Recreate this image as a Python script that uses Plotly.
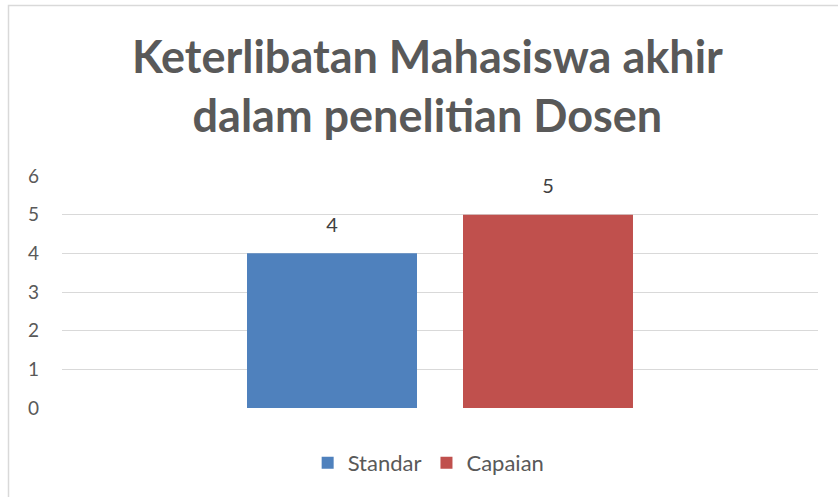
import plotly.graph_objects as go

# chart data
categories = [""]
series_names = ["Standar", "Capaian"]
series_values = [[4], [5]]
series_colors = ["#4F81BD", "#C0504D"]
y_ticks = [0, 1, 2, 3, 4, 5, 6]
title_text = "Keterlibatan Mahasiswa akhir<br>dalam penelitian Dosen"

W, H = 838, 497
L, R, T, B = 62, 20, 176, 89
ph = H - T - B
pw = W - L - R
FONT = "Lato"

fig = go.Figure()
for name, vals, col in zip(series_names, series_values, series_colors):
    fig.add_trace(go.Bar(
        x=categories, y=vals, name=name, offsetgroup=name,
        marker=dict(color=col, line=dict(width=0)),
        hoverinfo="skip",
    ))
# value labels, grouped like the bars
for name, vals in zip(series_names, series_values):
    fig.add_trace(go.Scatter(
        x=categories, y=vals, offsetgroup=name, mode="markers+text",
        marker=dict(size=25, opacity=0), showlegend=False,
        text=[str(v) for v in vals], textposition="top center",
        textfont=dict(size=20, color="#404040"), cliponaxis=False,
        hoverinfo="skip",
    ))

# chart border
fig.add_shape(
    type="rect", xref="paper", yref="paper",
    x0=(8.5 - L) / pw, x1=1.2,
    y0=-1.0, y1=(H - B - 5.5) / ph,
    line=dict(color="#D9D9D9", width=1.5), layer="below",
)

fig.update_layout(
    width=W, height=H,
    margin=dict(l=L, r=R, t=T, b=B),
    paper_bgcolor="white", plot_bgcolor="white",
    font=dict(family=FONT, color="#595959", size=18),
    barmode="group", bargap=0.4286, bargroupgap=0.213,
    scattermode="group", scattergap=0.4286,
    title=dict(
        text="<b>" + title_text + "</b>",
        font=dict(size=45, color="#595959", family=FONT),
        x=0.51, xanchor="center", xref="container",
        y=1 - 73 / H, yanchor="middle", yref="container",
    ),
    xaxis=dict(showticklabels=False, showgrid=False, showline=False, zeroline=False),
    yaxis=dict(
        range=[0, 6], tickvals=y_ticks, showgrid=True, gridcolor="#D9D9D9", gridwidth=1,
        zeroline=False, showline=False, ticks="", ticklabelstandoff=22,
        tickfont=dict(size=19, color="#595959"),
    ),
    legend=dict(
        orientation="h", x=0.485, xanchor="center",
        y=1 - 463 / H, yanchor="middle", yref="container",
        font=dict(size=22, color="#595959"),
        itemwidth=30,
    ),
    showlegend=True,
)

fig.write_html("out.html", config={"displayModeBar": False},
               post_script="document.body.style.margin='0';")
